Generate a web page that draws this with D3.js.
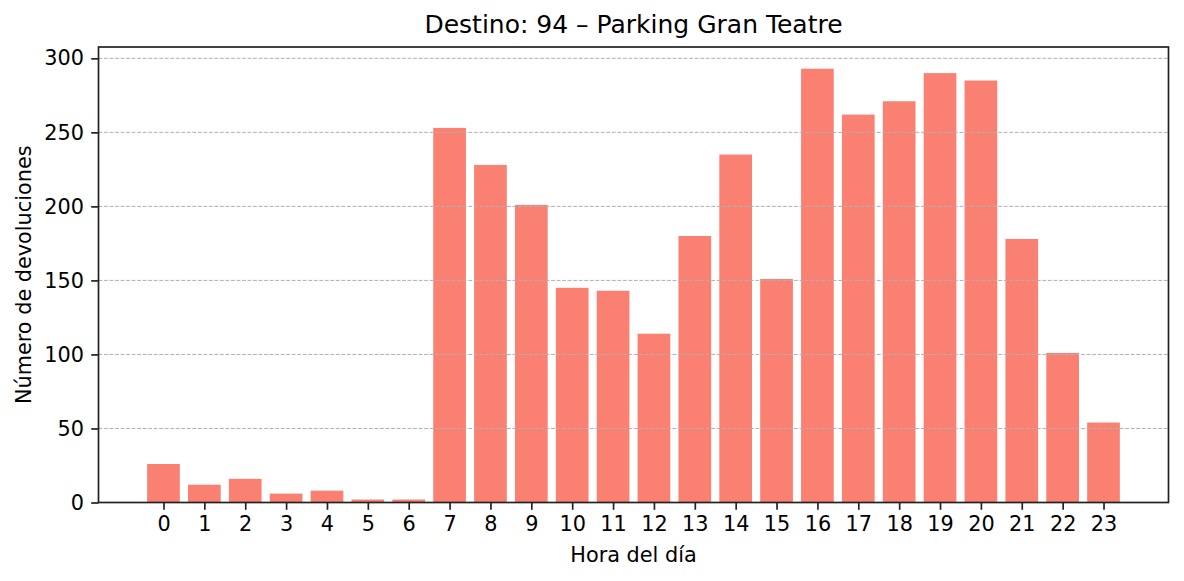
<!DOCTYPE html>
<html>
<head>
<meta charset="utf-8">
<script src="https://cdn.jsdelivr.net/npm/d3@7"></script>
<style>
  body { margin: 0; background: #fff; }
  svg { display: block; font-family: "DejaVu Sans", sans-serif; }
</style>
</head>
<body>
<svg width="1184" height="581"></svg>
<script>
  var hours = [0,1,2,3,4,5,6,7,8,9,10,11,12,13,14,15,16,17,18,19,20,21,22,23];
  var returns = [26,12,16,6,8,2,2,253,228,201,145,143,114,180,235,151,293,262,271,290,285,178,101,54];
  var yTicks = [0,50,100,150,200,250,300];

  var svg = d3.select('svg');
  var margin = {left: 98.5, right: 1168.5, top: 47, bottom: 502.5};

  var x = d3.scaleLinear().domain([-1.59, 24.59]).range([margin.left, margin.right]);
  var y = d3.scaleLinear().domain([0, d3.max(returns) * 1.05]).range([margin.bottom, margin.top]);

  // bars
  svg.append('g').selectAll('rect').data(returns)
    .enter().append('rect')
      .attr('x', function (d, i) { return x(hours[i] - 0.4); })
      .attr('width', function () { return x(0.8) - x(0); })
      .attr('y', function (d) { return y(d); })
      .attr('height', function (d) { return y(0) - y(d); })
      .attr('fill', '#FA8072');

  // grid on top of bars
  svg.append('g').selectAll('line').data(yTicks)
    .enter().append('line')
      .attr('x1', margin.left).attr('x2', margin.right)
      .attr('y1', function (d) { return y(d); })
      .attr('y2', function (d) { return y(d); })
      .attr('stroke', '#b0b0b0')
      .attr('stroke-width', 1)
      .attr('stroke-dasharray', '3.85,1.67');

  var xAxis = svg.append('g')
    .attr('transform', 'translate(0,' + margin.bottom + ')')
    .call(d3.axisBottom(x).tickValues(hours).tickFormat(d3.format('d')).tickSizeOuter(0).tickSize(7.3).tickPadding(6));
  var yAxis = svg.append('g')
    .attr('transform', 'translate(' + margin.left + ',0)')
    .call(d3.axisLeft(y).tickValues(yTicks).tickSizeOuter(0).tickSize(7.3).tickPadding(7.3));

  [xAxis, yAxis].forEach(function (a) {
    a.select('.domain').remove();
    a.selectAll('line').attr('stroke', '#222').attr('stroke-width', 1.7);
    a.selectAll('text').attr('font-size', '20.8px').attr('fill', '#000').attr('font-family', 'DejaVu Sans');
  });

  // frame
  svg.append('rect')
    .attr('x', margin.left).attr('y', margin.top)
    .attr('width', margin.right - margin.left).attr('height', margin.bottom - margin.top)
    .attr('fill', 'none').attr('stroke', '#222').attr('stroke-width', 1.7);

  svg.append('text')
    .attr('x', (margin.left + margin.right) / 2).attr('y', 33)
    .attr('text-anchor', 'middle').attr('font-size', '25px')
    .text('Destino: 94 – Parking Gran Teatre');

  svg.append('text')
    .attr('x', (margin.left + margin.right) / 2).attr('y', 562)
    .attr('text-anchor', 'middle').attr('font-size', '20.8px')
    .text('Hora del día');

  svg.append('text')
    .attr('transform', 'translate(31,' + (margin.top + margin.bottom) / 2 + ') rotate(-90)')
    .attr('text-anchor', 'middle').attr('font-size', '20.8px')
    .text('Número de devoluciones');
</script>
</body>
</html>
